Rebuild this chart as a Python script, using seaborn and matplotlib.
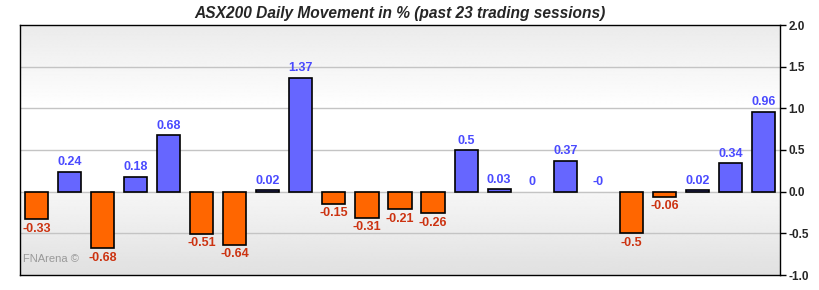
import numpy as np
import pandas as pd
import matplotlib
matplotlib.use('Agg')
import matplotlib.pyplot as plt
import seaborn as sns

sessions = list(range(1, 24))
moves = [-0.33, 0.24, -0.68, 0.18, 0.68, -0.51, -0.64, 0.02, 1.37, -0.15, -0.31, -0.21,
         -0.26, 0.5, 0.03, 0, 0.37, 0, -0.5, -0.06, 0.02, 0.34, 0.96]
move_labels = ['-0.33', '0.24', '-0.68', '0.18', '0.68', '-0.51', '-0.64', '0.02', '1.37', '-0.15',
               '-0.31', '-0.21', '-0.26', '0.5', '0.03', '0', '0.37', '-0', '-0.5', '-0.06',
               '0.02', '0.34', '0.96']
y_ticks = [-1.0, -0.5, 0.0, 0.5, 1.0, 1.5, 2.0]

pos_col = '#6666ff'
neg_col = '#ff6600'
pos_txt = '#4a4aff'
neg_txt = '#cc3311'

sns.set_style('white')
plt.rcParams['font.family'] = ['Liberation Sans', 'DejaVu Sans']

df = pd.DataFrame({'session': sessions, 'move': moves})
df['dir'] = np.where(df['move'] >= 0, 'up', 'down')

fig = plt.figure(figsize=(8.2, 2.9), dpi=100)
ax = fig.add_axes([20 / 820, 15 / 290, 760 / 820, 250 / 290])

# background gradient: grey at top fading to white, grey again below zero
yy = np.linspace(2, -1, 300)
shade = np.where(yy > 1, 0.92 + 0.08 * (2 - yy), np.where(yy >= 0, 1.0, 0.965 + 0.085 * yy))
bg = np.repeat(shade[:, None], 2, axis=1)
ax.imshow(bg, extent=[-0.5, 22.5, -1, 2], aspect='auto', cmap='gray', vmin=0, vmax=1,
          zorder=0, interpolation='bilinear')

for t in y_ticks[1:-1]:
    ax.axhline(t, color='#c4c4c4', lw=1, zorder=1)

sns.barplot(data=df, x='session', y='move', hue='dir', palette={'up': pos_col, 'down': neg_col},
            dodge=False, width=0.7, saturation=1, edgecolor='black', linewidth=1.2,
            legend=False, ax=ax, zorder=2)

# zero-height bars show no outline in the original
for p in ax.patches:
    if abs(p.get_height()) < 1e-9:
        p.set_linewidth(0)

for i, (v, lab) in enumerate(zip(moves, move_labels)):
    if v >= 0:
        ax.text(i, v + 0.04, lab, ha='center', va='bottom', color=pos_txt, fontsize=9,
                fontweight='bold', zorder=3)
    else:
        ax.text(i, v - 0.04, lab, ha='center', va='top', color=neg_txt, fontsize=9,
                fontweight='bold', zorder=3)

ax.text(-0.4, -0.85, 'FNArena \u00a9', color='#999999', fontsize=8, zorder=3)

ax.set_xlim(-0.5, 22.5)
ax.set_ylim(-1, 2)
ax.set_yticks(y_ticks)
ax.set_yticklabels([f'{t:.1f}' for t in y_ticks], fontsize=8.5, fontweight='bold')
ax.yaxis.tick_right()
ax.tick_params(axis='y', which='both', right=True, length=4, width=1, color='black', pad=2)
ax.set_xticks([])
ax.set_xlabel('')
ax.set_ylabel('')
for s in ax.spines.values():
    s.set_visible(True)
    s.set_color('black')
    s.set_linewidth(1)

ax.set_title('ASX200 Daily Movement in % (past 23 trading sessions)', fontsize=11.2,
             fontweight='bold', fontstyle='italic', pad=5)

fig.savefig('out.png', dpi=100)
